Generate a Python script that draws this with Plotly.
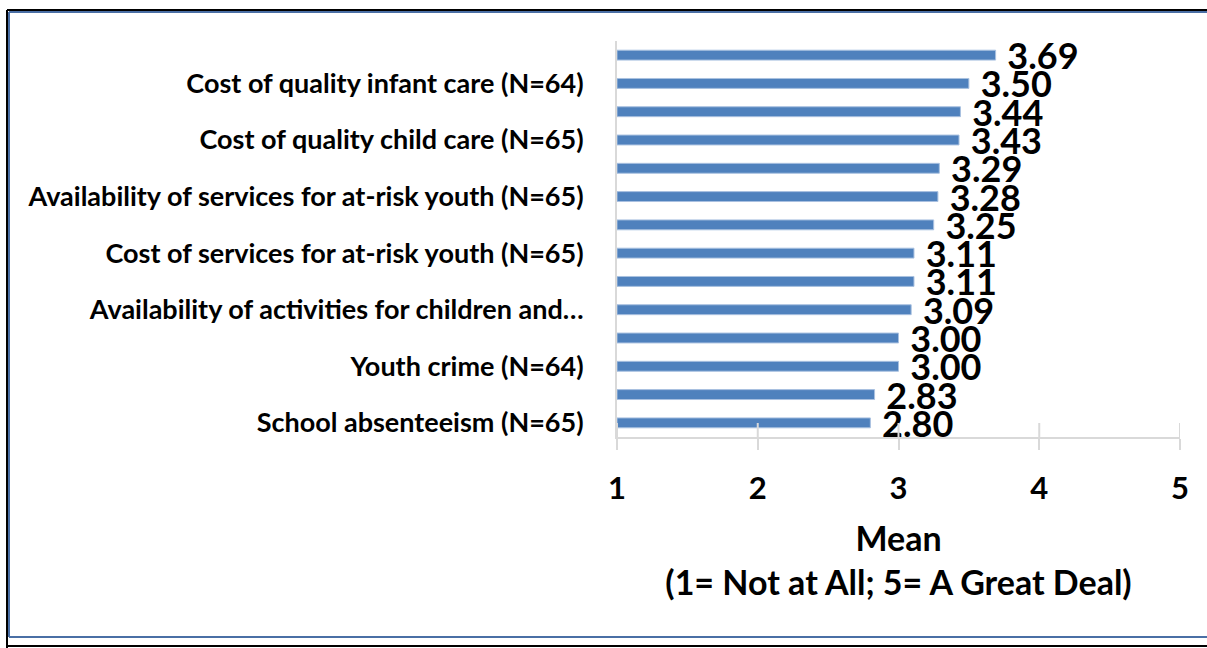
import plotly.graph_objects as go

# categories top to bottom; the unlabelled ones are hidden in the original chart
categories = [
    "Item A", "Cost of quality infant care (N=64)",
    "Item B", "Cost of quality child care (N=65)",
    "Item C", "Availability of services for at-risk youth (N=65)",
    "Item D", "Cost of services for at-risk youth (N=65)",
    "Item E", "Availability of activities for children and\u2026",
    "Item F", "Youth crime (N=64)",
    "Item G", "School absenteeism (N=65)",
]
means = [3.69, 3.50, 3.44, 3.43, 3.29, 3.28, 3.25, 3.11, 3.11, 3.09, 3.00, 3.00, 2.83, 2.80]
shown_labels = categories[1::2]
x_ticks = [1, 2, 3, 4, 5]

W, H = 1207, 648
ML, MR, MT, MB = 617, 27, 41, 211
FONT = "Lato, Open Sans, sans-serif"

fig = go.Figure()
fig.add_trace(go.Bar(
    y=categories, x=[m - 1 for m in means], base=1, orientation="h",
    marker=dict(color="#4F81BD", line=dict(color="#A9C1E0", width=1)),
    text=[f" {m:.2f}" for m in means], textposition="outside",
    textfont=dict(family=FONT, size=36, color="black", weight="bold"),
    constraintext="none", cliponaxis=False, hoverinfo="skip",
))

# pixel -> paper helpers for the frame and tick crosses
def px(x):
    return (x - ML) / (W - ML - MR)

def py(y):
    return 1 - (y - MT) / (H - MT - MB)

shapes = []
for x0, y0, x1, y1, c, w in [
    (7, 10, W, 10, "black", 2), (7, 10, 7, H, "black", 2),
    (9, 12, W, 12, "#4A6FA5", 2), (9, 12, 9, 637, "#4A6FA5", 2),
    (9, 637, W, 637, "#4A6FA5", 2), (7, 646, W, 646, "black", 2),
]:
    shapes.append(dict(type="line", xref="paper", yref="paper",
                       x0=px(x0), y0=py(y0), x1=px(x1), y1=py(y1),
                       line=dict(color=c, width=w)))
for t in x_ticks:
    shapes.append(dict(type="line", xref="x", yref="paper", x0=t, x1=t,
                       y0=0, y1=py(423), line=dict(color="#D9D9D9", width=2)))
fig.update_layout(shapes=shapes)

fig.update_xaxes(
    range=[1, 5], tickvals=x_ticks, showgrid=False, zeroline=False,
    showline=True, linecolor="#D9D9D9", linewidth=2,
    ticks="outside", ticklen=11, tickcolor="#D9D9D9", tickwidth=2,
    ticklabelstandoff=12,
    tickfont=dict(family=FONT, size=31, color="black", weight="bold"),
    title=dict(text="Mean<br>(1= Not at All; 5= A Great Deal)", standoff=22,
               font=dict(family=FONT, size=34, color="black", weight="bold")),
)
fig.update_yaxes(
    autorange="reversed", tickvals=shown_labels, ticktext=shown_labels,
    showline=True, linecolor="#D9D9D9", linewidth=2, showgrid=False,
    ticks="", ticklabelstandoff=26,
    tickfont=dict(family=FONT, size=27, color="black", weight="bold"),
)
fig.update_layout(
    width=W, height=H, bargap=0.65, showlegend=False,
    margin=dict(l=ML, r=MR, t=MT, b=MB),
    plot_bgcolor="white", paper_bgcolor="white",
)
fig.write_html("out.html", config={"displayModeBar": False},
               post_script="document.body.style.margin='0';")
